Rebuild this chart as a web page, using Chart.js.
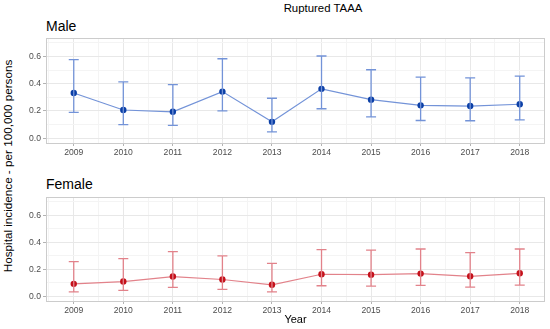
<!DOCTYPE html>
<html>
<head>
<meta charset="utf-8">
<script src="https://cdn.jsdelivr.net/npm/chart.js@4/dist/chart.umd.min.js"></script>
<style>
  body { margin: 0; background: #fff; }
  #wrap { position: relative; width: 550px; height: 329px; font-family: "Liberation Sans", Arial, sans-serif; }
  .panel { position: absolute; left: 0; width: 550px; }
  .txt { position: absolute; color: #000; white-space: nowrap; line-height: normal; }
</style>
</head>
<body>
<div id="wrap">
  <div class="txt" style="left:323px; top:2px; font-size:11.4px; transform:translateX(-50%)">Ruptured TAAA</div>
  <div class="txt" style="left:46px; top:18px; font-size:14px">Male</div>
  <div class="txt" style="left:46px; top:176px; font-size:14px">Female</div>
  <div class="txt" style="left:7px; top:166px; font-size:11.7px; transform:translate(-50%,-50%) rotate(-90deg)">Hospital incidence - per 100,000 persons</div>
  <div class="panel" style="top:0; height:165px"><canvas id="male"></canvas></div>
  <div class="panel" style="top:165px; height:164px"><canvas id="female"></canvas></div>
</div>
<script>
const years = [2009, 2010, 2011, 2012, 2013, 2014, 2015, 2016, 2017, 2018]

const maleRate  = [0.332, 0.207, 0.194, 0.342, 0.120, 0.362, 0.283, 0.241, 0.236, 0.249]
const maleLow   = [0.190, 0.100, 0.094, 0.200, 0.047, 0.216, 0.157, 0.130, 0.128, 0.135]
const maleHigh  = [0.576, 0.413, 0.393, 0.583, 0.293, 0.603, 0.502, 0.448, 0.443, 0.455]

const femaleRate = [0.092, 0.109, 0.146, 0.124, 0.085, 0.163, 0.160, 0.168, 0.148, 0.170]
const femaleLow  = [0.032, 0.044, 0.066, 0.051, 0.032, 0.078, 0.075, 0.080, 0.068, 0.083]
const femaleHigh = [0.257, 0.279, 0.330, 0.299, 0.243, 0.345, 0.342, 0.350, 0.323, 0.350]

const yTicks = [0, 0.1, 0.2, 0.3, 0.4, 0.5, 0.6, 0.7]
const xTicks = [2008.5, 2009, 2009.5, 2010, 2010.5, 2011, 2011.5, 2012, 2012.5, 2013, 2013.5,
                2014, 2014.5, 2015, 2015.5, 2016, 2016.5, 2017, 2017.5, 2018, 2018.5]

const isMajorY = v => Math.abs(Math.round(v * 10) % 2) === 0
const isMajorX = v => Number.isInteger(v)

// error bars + panel border
const errorBars = {
  id: 'errorBars',
  afterDatasetsDraw(chart, args, opts) {
    const { ctx, scales: { x, y } } = chart
    ctx.save()
    ctx.strokeStyle = opts.color
    ctx.lineWidth = 1.3
    years.forEach((yr, i) => {
      const px = x.getPixelForValue(yr)
      const top = y.getPixelForValue(opts.high[i])
      const bot = y.getPixelForValue(opts.low[i])
      ctx.beginPath()
      ctx.moveTo(px, top); ctx.lineTo(px, bot)
      ctx.moveTo(px - 5, top); ctx.lineTo(px + 5, top)
      ctx.moveTo(px - 5, bot); ctx.lineTo(px + 5, bot)
      ctx.stroke()
    })
    ctx.restore()
  },
  beforeDatasetsDraw(chart) {
    const { ctx, chartArea: a } = chart
    ctx.save()
    ctx.strokeStyle = '#cccccc'
    ctx.lineWidth = 1
    ctx.strokeRect(a.left + 0.5, a.top + 0.5, a.right - a.left - 1, a.bottom - a.top)
    ctx.restore()
  }
}

function makePanel(id, rate, low, high, pointColor, lineColor, opt) {
  const canvas = document.getElementById(id)
  return new Chart(canvas.getContext('2d'), {
    type: 'line',
    data: {
      datasets: [{
        data: years.map((yr, i) => ({ x: yr, y: rate[i] })),
        borderColor: lineColor,
        borderWidth: 1.2,
        pointBackgroundColor: pointColor,
        pointBorderColor: pointColor,
        pointRadius: 3.2,
        pointBorderWidth: 0,
        tension: 0
      }]
    },
    options: {
      responsive: true,
      maintainAspectRatio: false,
      animation: false,
      layout: { padding: { top: opt.top, right: 5, left: 0, bottom: 0 } },
      plugins: {
        legend: { display: false },
        tooltip: { enabled: false },
        errorBars: { color: lineColor, low, high }
      },
      scales: {
        x: {
          type: 'linear',
          min: 2008.44,
          max: 2018.51,
          afterBuildTicks: s => { s.ticks = xTicks.map(v => ({ value: v })) },
          afterFit: s => { s.height = opt.xHeight },
          border: { display: false },
          grid: {
            color: c => isMajorX(c.tick.value) ? '#e8e8e8' : '#f4f4f4',
            tickColor: c => isMajorX(c.tick.value) ? '#b3b3b3' : 'rgba(0,0,0,0)',
            tickLength: 3
          },
          ticks: {
            autoSkip: false,
            maxRotation: 0,
            padding: 1,
            color: '#4d4d4d',
            font: { family: 'Liberation Sans', size: 8.6 },
            callback: v => isMajorX(v) ? String(v) : ''
          },
          title: opt.xTitle ? {
            display: true,
            text: 'Year',
            color: '#000',
            font: { family: 'Liberation Sans', size: 11 },
            padding: { top: 0, bottom: 2 }
          } : { display: false }
        },
        y: {
          min: -0.035,
          max: 0.735,
          afterBuildTicks: s => { s.ticks = yTicks.map(v => ({ value: v })) },
          afterFit: s => { s.width = 46 },
          border: { display: false },
          grid: {
            color: c => isMajorY(c.tick.value) ? '#e8e8e8' : '#f4f4f4',
            tickColor: c => isMajorY(c.tick.value) ? '#b3b3b3' : 'rgba(0,0,0,0)',
            tickLength: 3
          },
          ticks: {
            padding: 2,
            color: '#4d4d4d',
            font: { family: 'Liberation Sans', size: 8.6 },
            callback: v => isMajorY(v) ? v.toFixed(1) : ''
          }
        }
      }
    },
    plugins: [errorBars]
  })
}

makePanel('male', maleRate, maleLow, maleHigh, '#0b3fa6', '#7393d8', { top: 38, xHeight: 22, xTitle: false })
makePanel('female', femaleRate, femaleLow, femaleHigh, '#c4101a', '#e2828a', { top: 32, xHeight: 28, xTitle: true })
</script>
</body>
</html>
